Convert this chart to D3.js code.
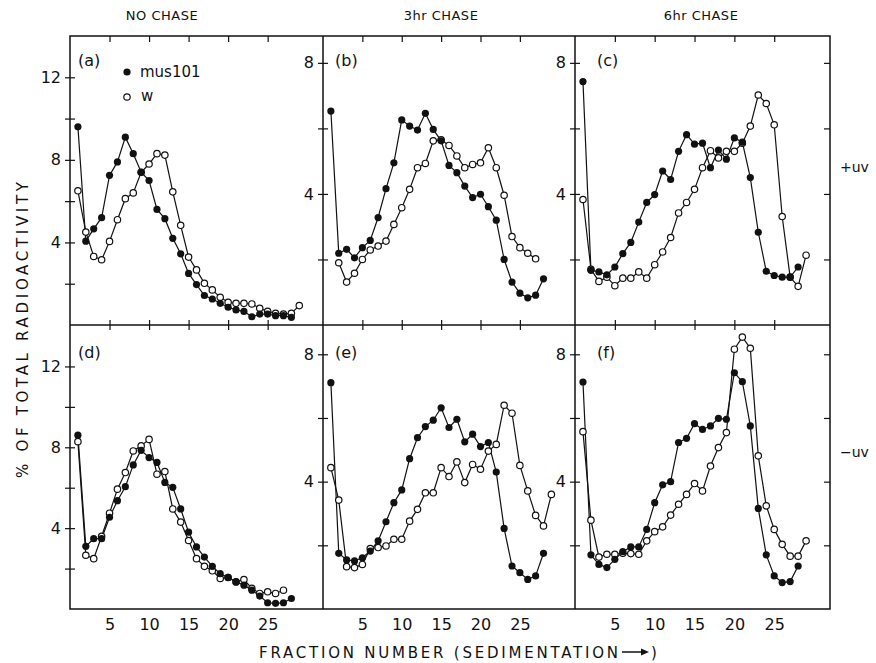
<!DOCTYPE html>
<html>
<head>
<meta charset="utf-8">
<script src="https://cdn.jsdelivr.net/npm/d3@7"></script>
<style>
  body { margin: 0; background: #fff; }
  svg { display: block; }
  text { font-family: "DejaVu Sans", sans-serif; fill: #111; }
</style>
</head>
<body>
<div id="chart"></div>
<script>
// fraction numbers (x) shared by every panel
const fractions = [1,2,3,4,5,6,7,8,9,10,11,12,13,14,15,16,17,18,19,20,21,22,23,24,25,26,27,28,29];

// +uv, no chase
const musA = [9.6,4.06,4.66,5.2,7.25,7.9,9.1,8.3,7.4,7.0,5.6,5.15,4.2,3.45,2.5,1.96,1.43,1.26,1.05,0.86,0.73,0.66,0.4,0.53,0.53,0.45,0.45,0.37];
const wA   = [6.5,4.5,3.32,3.16,4.05,5.1,6.12,6.4,7.4,7.8,8.3,8.23,6.45,4.83,3.29,2.67,2.02,1.7,1.34,1.1,1.05,1.05,1.02,0.81,0.66,0.57,0.53,0.57,0.94];
// +uv, 3hr chase
const musB = [6.53,2.19,2.31,2.05,2.36,2.58,3.28,4.16,4.95,6.26,6.07,5.95,6.46,5.97,5.62,4.87,4.65,4.24,3.89,3.99,3.61,3.2,2.0,1.31,0.97,0.83,0.91,1.41];
const wB   = [null,1.9,1.31,1.58,2.0,2.29,2.41,2.56,3.07,3.58,4.14,4.8,4.93,5.62,5.65,5.48,5.16,4.8,4.9,4.95,5.41,4.8,3.96,2.7,2.36,2.19,2.02];
// +uv, 6hr chase
const musC = [7.43,1.67,1.62,1.53,1.77,2.18,2.52,3.14,3.74,3.98,4.7,4.44,5.3,5.81,5.52,5.55,4.8,5.34,5.06,5.71,5.58,4.5,2.83,1.64,1.51,1.46,1.46,1.77];
const wC   = [3.83,1.7,1.33,1.46,1.2,1.43,1.43,1.62,1.43,1.84,2.23,2.67,3.42,3.74,4.14,4.8,5.32,5.1,5.3,5.3,5.55,6.07,7.02,6.76,6.11,3.31,1.46,1.18,2.13];
// -uv, no chase
const musD = [8.6,3.1,3.48,3.48,4.54,5.36,6.05,7.13,7.85,7.49,7.25,6.26,6.02,4.95,3.8,3.07,2.57,2.11,1.75,1.56,1.34,1.18,0.93,0.64,0.31,0.28,0.31,0.52];
const wD   = [8.28,2.66,2.49,3.6,4.74,5.93,6.75,7.82,8.07,8.39,6.67,6.8,4.95,4.3,3.39,2.49,2.11,1.89,1.51,1.56,1.34,1.46,1.02,0.77,0.85,0.77,0.93];
// -uv, 3hr chase
const musE = [7.11,1.75,1.54,1.51,1.61,1.82,2.14,2.74,3.34,3.74,4.72,5.38,5.73,5.93,6.32,5.7,5.96,5.25,5.49,5.1,5.23,4.3,2.53,1.35,1.14,0.93,1.04,1.75];
const wE   = [4.44,3.42,1.33,1.3,1.4,1.9,1.93,1.98,2.19,2.19,2.76,3.13,3.65,3.65,4.44,4.16,4.62,3.97,4.54,4.39,4.96,5.17,6.4,6.15,4.51,3.71,2.94,2.61,3.6];
// -uv, 6hr chase
const musF = [7.13,1.7,1.4,1.3,1.56,1.8,1.95,1.95,2.5,3.34,3.9,4.0,5.23,5.36,5.82,5.64,5.75,5.99,5.96,7.42,7.14,5.75,3.16,1.7,1.04,0.83,0.86,1.35];
const wF   = [5.57,2.79,1.63,1.72,1.72,1.75,1.74,1.72,2.14,2.43,2.58,2.95,3.29,3.6,3.94,3.71,4.49,5.07,5.54,8.16,8.54,8.19,4.81,3.24,2.5,2.03,1.66,1.66,2.14];

const xTickValues = [5, 10, 15, 20, 25];
const yTicksWide = [2, 4, 6, 8, 10, 12];
const yLabelsWide = [4, 8, 12];
const yTicksNarrow = [2, 4, 6, 8];
const yLabelsNarrow = [4, 8];
const columnTitles = ["NO CHASE", "3hr CHASE", "6hr CHASE"];
const rowLabels = ["+uv", "\u2212uv"];

const panels = [
  { id: "(a)", col: 0, row: 0, top: 14,   ticks: yTicksWide,   labels: yLabelsWide,   mus: musA, w: wA },
  { id: "(b)", col: 1, row: 0, top: 8.82, ticks: yTicksNarrow, labels: yLabelsNarrow, mus: musB, w: wB },
  { id: "(c)", col: 2, row: 0, top: 8.82, ticks: yTicksNarrow, labels: yLabelsNarrow, mus: musC, w: wC },
  { id: "(d)", col: 0, row: 1, top: 14.05, ticks: yTicksWide,  labels: yLabelsWide,   mus: musD, w: wD },
  { id: "(e)", col: 1, row: 1, top: 8.92, ticks: yTicksNarrow, labels: yLabelsNarrow, mus: musE, w: wE },
  { id: "(f)", col: 2, row: 1, top: 8.92, ticks: yTicksNarrow, labels: yLabelsNarrow, mus: musF, w: wF }
];

const width = 876, height = 663;
const cols = [[70, 323], [323, 575], [575, 830]];
const rows = [[36, 325], [325, 609]];

const svg = d3.select("#chart").append("svg")
  .attr("width", width)
  .attr("height", height);

const ink = "#111";

// strip axis domain path and style ticks
function styleAxis(g, size) {
  g.select(".domain").remove();
  g.selectAll(".tick line").attr("stroke", ink).attr("stroke-width", 1.2);
  g.attr("font-family", "DejaVu Sans, sans-serif").attr("font-size", size || 15);
  g.selectAll(".tick text").attr("fill", ink);
}

panels.forEach(p => {
  const [x0, x1] = cols[p.col];
  const [y0, y1] = rows[p.row];
  const x = d3.scaleLinear().domain([0, 32]).range([x0, x1]);
  const y = d3.scaleLinear().domain([0, p.top]).range([y1, y0]);
  const g = svg.append("g");

  // y ticks crossing the left axis
  g.append("g").attr("transform", `translate(${x0},0)`)
    .call(d3.axisLeft(y).tickValues(p.ticks).tickSize(5).tickFormat(""))
    .call(a => styleAxis(a));
  g.append("g").attr("transform", `translate(${x0},0)`)
    .call(d3.axisRight(y).tickValues(p.ticks).tickSize(5).tickFormat(""))
    .call(a => styleAxis(a));
  g.append("g").attr("transform", `translate(${x0},0)`)
    .call(d3.axisLeft(y).tickValues(p.labels).tickSize(0).tickPadding(9))
    .call(a => styleAxis(a, 16));

  // right border ticks for the last column
  if (p.col === 2) {
    g.append("g").attr("transform", `translate(${x1},0)`)
      .call(d3.axisLeft(y).tickValues(p.ticks).tickSize(6).tickFormat(""))
      .call(a => styleAxis(a));
  }

  if (p.row === 0) {
    g.append("g").attr("transform", `translate(0,${y0})`)
      .call(d3.axisBottom(x).tickValues(xTickValues).tickSize(6).tickFormat(""))
      .call(a => styleAxis(a));
    g.append("g").attr("transform", `translate(0,${y1})`)
      .call(d3.axisBottom(x).tickValues(xTickValues).tickSize(5).tickFormat(""))
      .call(a => styleAxis(a));
    g.append("g").attr("transform", `translate(0,${y1})`)
      .call(d3.axisTop(x).tickValues(xTickValues).tickSize(5).tickFormat(""))
      .call(a => styleAxis(a));
  } else {
    g.append("g").attr("transform", `translate(0,${y1})`)
      .call(d3.axisBottom(x).tickValues(xTickValues).tickSize(0).tickPadding(10))
      .call(a => styleAxis(a, 16));
  }

  // series
  const pts = s => fractions.map((f, i) => ({ f, v: s[i] == null ? null : s[i] }));
  const line = d3.line().defined(d => d.v != null).x(d => x(d.f)).y(d => y(d.v));
  const musPts = pts(p.mus), wPts = pts(p.w);

  [wPts, musPts].forEach(d => {
    g.append("path").datum(d)
      .attr("d", line)
      .attr("fill", "none")
      .attr("stroke", ink)
      .attr("stroke-width", 1.2);
  });

  g.selectAll(".w").data(wPts.filter(d => d.v != null)).enter()
    .append("circle").attr("class", "w")
    .attr("cx", d => x(d.f)).attr("cy", d => y(d.v))
    .attr("r", 3.2)
    .attr("fill", "#fff").attr("stroke", ink).attr("stroke-width", 1.2);

  g.selectAll(".mus").data(musPts.filter(d => d.v != null)).enter()
    .append("circle").attr("class", "mus")
    .attr("cx", d => x(d.f)).attr("cy", d => y(d.v))
    .attr("r", 3.6)
    .attr("fill", ink);

  g.append("text")
    .attr("x", x0 + (p.col === 0 ? 8 : p.col === 1 ? 12 : 22))
    .attr("y", y0 + (p.row === 0 ? 30 : 33))
    .style("font-size", "16px")
    .text(p.id);
});

// frame
svg.append("rect")
  .attr("x", cols[0][0]).attr("y", rows[0][0])
  .attr("width", cols[2][1] - cols[0][0]).attr("height", rows[1][1] - rows[0][0])
  .attr("fill", "none").attr("stroke", ink).attr("stroke-width", 1.5);
[cols[1][0], cols[2][0]].forEach(cx => {
  svg.append("line").attr("x1", cx).attr("x2", cx)
    .attr("y1", rows[0][0]).attr("y2", rows[1][1])
    .attr("stroke", ink).attr("stroke-width", 1.5);
});
svg.append("line").attr("x1", cols[0][0]).attr("x2", cols[2][1])
  .attr("y1", rows[1][0]).attr("y2", rows[1][0])
  .attr("stroke", ink).attr("stroke-width", 1.5);

// legend in panel (a)
svg.append("circle").attr("cx", 127).attr("cy", 72).attr("r", 3.6).attr("fill", ink);
svg.append("text").attr("x", 140).attr("y", 77).style("font-size", "15px").text("mus101");
svg.append("circle").attr("cx", 127).attr("cy", 97).attr("r", 3.2)
  .attr("fill", "#fff").attr("stroke", ink).attr("stroke-width", 1.2);
svg.append("text").attr("x", 141).attr("y", 101).style("font-size", "15px").text("w");

// column titles
const titleX = [162, 441, 701];
columnTitles.forEach((t, i) => {
  svg.append("text").attr("x", titleX[i]).attr("y", 20)
    .attr("text-anchor", "middle")
    .style("font-size", "13px")
    .style("letter-spacing", "0.5px")
    .text(t);
});

// row labels
const rowY = [172, 457];
rowLabels.forEach((t, i) => {
  svg.append("text").attr("x", 840).attr("y", rowY[i])
    .style("font-size", "14px")
    .text(t);
});

// axis titles
svg.append("text")
  .attr("transform", "translate(28,330) rotate(-90)")
  .attr("text-anchor", "middle")
  .attr("textLength", 296)
  .attr("lengthAdjust", "spacing")
  .style("font-size", "15px")
  .text("% OF TOTAL RADIOACTIVITY");

svg.append("text")
  .attr("x", 259).attr("y", 658)
  .attr("textLength", 359)
  .attr("lengthAdjust", "spacing")
  .style("font-size", "15px")
  .text("FRACTION NUMBER (SEDIMENTATION");
svg.append("line").attr("x1", 622).attr("x2", 644)
  .attr("y1", 652).attr("y2", 652)
  .attr("stroke", ink).attr("stroke-width", 1.5);
svg.append("path").attr("d", "M641,648.5 L649,652 L641,655.5 Z").attr("fill", ink);
svg.append("text").attr("x", 651).attr("y", 658).style("font-size", "15px").text(")");
</script>
</body>
</html>
